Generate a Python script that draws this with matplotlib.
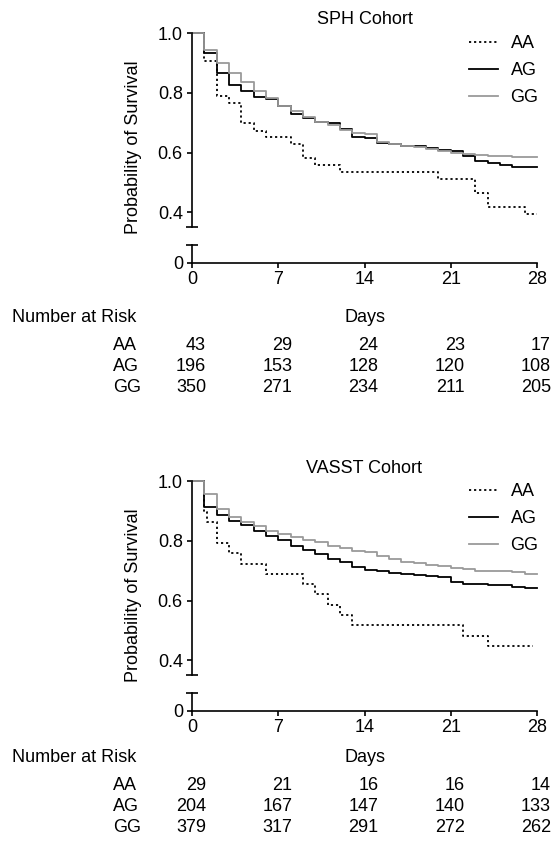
import matplotlib
matplotlib.use('Agg')
import matplotlib.pyplot as plt
import matplotlib.transforms as mtransforms

plt.rcParams['font.family'] = ['Liberation Sans', 'DejaVu Sans']
plt.rcParams['font.size'] = 13

# Kaplan-Meier curves (day, survival)
groups = ['AA', 'AG', 'GG']
risk_days = [0, 7, 14, 21, 28]
days = list(range(29))

sph_aa_t = [0, 1, 2, 3, 4, 5, 6, 8, 9, 10, 12, 20, 23, 24, 27, 28]
sph_aa_s = [1.0, 0.907, 0.791, 0.767, 0.698, 0.674, 0.651, 0.628, 0.581, 0.558,
            0.535, 0.512, 0.465, 0.419, 0.395, 0.395]
sph_ag_s = [1.0, 0.933, 0.868, 0.827, 0.805, 0.786, 0.78, 0.757, 0.73, 0.715,
            0.704, 0.698, 0.68, 0.654, 0.648, 0.634, 0.63, 0.623, 0.623, 0.617,
            0.609, 0.606, 0.589, 0.573, 0.567, 0.559, 0.551, 0.551, 0.551]
sph_gg_s = [1.0, 0.944, 0.902, 0.866, 0.836, 0.805, 0.782, 0.757, 0.74, 0.72,
            0.704, 0.693, 0.676, 0.665, 0.662, 0.637, 0.63, 0.622, 0.618, 0.612,
            0.605, 0.6, 0.595, 0.592, 0.59, 0.589, 0.587, 0.586, 0.586]

vasst_aa_t = [0, 1, 1.2, 2, 3, 4, 6, 9, 10, 11, 12, 13, 22, 24, 27.7]
vasst_aa_s = [1.0, 0.897, 0.862, 0.793, 0.759, 0.724, 0.69, 0.655, 0.621, 0.586,
              0.552, 0.517, 0.483, 0.448, 0.448]
vasst_ag_s = [1.0, 0.914, 0.888, 0.866, 0.854, 0.832, 0.818, 0.804, 0.784, 0.77,
              0.757, 0.74, 0.729, 0.712, 0.703, 0.698, 0.694, 0.69, 0.687, 0.684,
              0.681, 0.664, 0.656, 0.656, 0.653, 0.653, 0.647, 0.642, 0.642]
vasst_gg_s = [1.0, 0.957, 0.907, 0.882, 0.862, 0.849, 0.835, 0.824, 0.813, 0.804,
              0.795, 0.784, 0.776, 0.768, 0.762, 0.751, 0.739, 0.731, 0.726, 0.72,
              0.715, 0.709, 0.706, 0.701, 0.698, 0.698, 0.695, 0.689, 0.689]

# number at risk
sph_risk = [[43, 29, 24, 23, 17], [196, 153, 128, 120, 108], [350, 271, 234, 211, 205]]
vasst_risk = [[29, 21, 16, 16, 14], [204, 167, 147, 140, 133], [379, 317, 291, 272, 262]]

W, H = 557, 848
fig = plt.figure(figsize=(W / 100, H / 100), dpi=100)


def box(l, t, r, b):
    return [l / W, 1 - b / H, (r - l) / W, (b - t) / H]


def cohort(dy, dt, title, curves, risk):
    ax = fig.add_axes(box(192, 33.3 + dy, 537, 227.3 + dy))
    lo = fig.add_axes(box(192, 244.5 + dy, 537, 262.5 + dy))

    styles = [('k', (0, (1.2, 1.6))), ('k', '-'), ('#9a9a9a', '-')]
    for (t, s), name, (c, ls) in zip(curves, groups, styles):
        ax.step(t, s, where='post', color=c, lw=1.3, linestyle=ls,
                label=name, clip_on=False)

    ax.set_xlim(0, 28)
    ax.set_ylim(0.35, 1.0)
    ax.set_yticks([0.4, 0.6, 0.8, 1.0])
    ax.set_yticklabels(['0.4', '0.6', '0.8', '1.0'])
    for sp in ['top', 'right', 'bottom']:
        ax.spines[sp].set_visible(False)
    ax.spines['left'].set_linewidth(1.2)
    ax.tick_params(axis='x', bottom=False, labelbottom=False)
    ax.tick_params(axis='y', length=3.6, width=1.2, pad=3)
    ax.plot([0], [0], marker='_', ms=8, mew=1.2, color='k',
            transform=ax.transAxes, clip_on=False)

    lo.set_xlim(0, 28)
    lo.set_ylim(0, 0.06)
    lo.set_yticks([0])
    lo.set_yticklabels(['0'])
    lo.set_xticks(risk_days)
    lo.set_xticklabels([str(d) for d in risk_days])
    for sp in ['top', 'right']:
        lo.spines[sp].set_visible(False)
    lo.spines['left'].set_linewidth(1.2)
    lo.spines['bottom'].set_linewidth(1.2)
    lo.tick_params(length=3.6, width=1.2, pad=2.5)
    lo.plot([0], [1], marker='_', ms=8, mew=1.2, color='k',
            transform=lo.transAxes, clip_on=False)

    ax.legend(loc='upper left', bbox_to_anchor=(469 / W, 1 - (35 + dy) / H),
              bbox_transform=fig.transFigure, frameon=False, fontsize=13,
              handlelength=1.6, handletextpad=0.7, labelspacing=0.55,
              borderpad=0, borderaxespad=0)

    fig.text(364.5 / W, 1 - (20 + dy) / H, title, ha='center', va='center')
    fig.text(133 / W, 1 - (147 + dy) / H, 'Probability of Survival',
             rotation=90, ha='center', va='center')

    # number at risk table
    fig.text(12 / W, 1 - (317 + dt) / H, 'Number at Risk', va='center')
    fig.text(364.5 / W, 1 - (317 + dt) / H, 'Days', ha='center', va='center')
    trans = mtransforms.blended_transform_factory(lo.transData, fig.transFigure) + \
        mtransforms.ScaledTranslation(0.14, 0, fig.dpi_scale_trans)
    rows_y = [346 + dt, 366.5 + dt, 387 + dt]
    for g, counts, yy in zip(groups, risk, rows_y):
        fig.text(113 / W, 1 - yy / H, g, va='center')
        for d, n in zip(risk_days, counts):
            fig.text(d, 1 - yy / H, str(n), ha='right', va='center', transform=trans)


cohort(0, 0, 'SPH Cohort',
       [(sph_aa_t, sph_aa_s), (days, sph_ag_s), (days, sph_gg_s)], sph_risk)
cohort(448, 440, 'VASST Cohort',
       [(vasst_aa_t, vasst_aa_s), (days, vasst_ag_s), (days, vasst_gg_s)], vasst_risk)

fig.savefig('out.png', dpi=100)
